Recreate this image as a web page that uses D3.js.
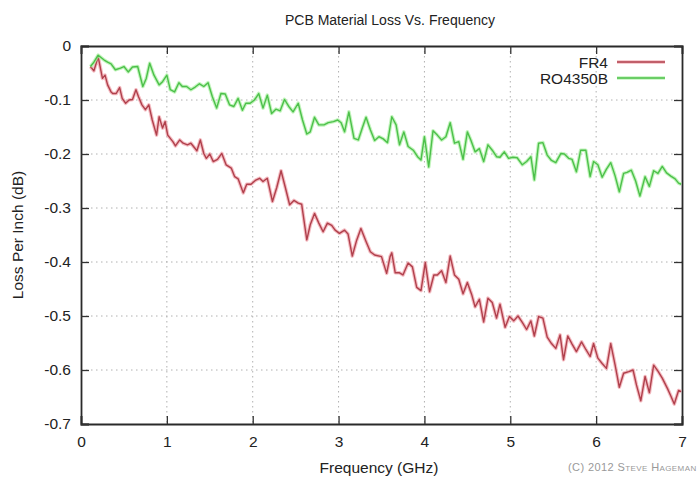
<!DOCTYPE html>
<html><head><meta charset="utf-8">
<script src="https://cdn.jsdelivr.net/npm/d3@7"></script>
<style>body{margin:0;background:#fff}svg text{font-family:"Liberation Sans",Arial,sans-serif}</style>
</head><body><svg id="c" width="699" height="477"></svg>
<script>
const xTicks=[0,1,2,3,4,5,6,7];
const yTicks=[0,-0.1,-0.2,-0.3,-0.4,-0.5,-0.6,-0.7];
const seriesNames=["FR4","RO4350B"];
const fr4Freq=[0.11,0.15,0.2,0.25,0.28,0.31,0.35,0.37,0.41,0.45,0.48,0.52,0.56,0.6,0.64,0.67,0.71,0.75,0.79,0.83,0.88,0.91,0.95,0.98,1.01,1.07,1.1,1.15,1.19,1.24,1.28,1.32,1.35,1.39,1.43,1.46,1.5,1.54,1.59,1.64,1.69,1.75,1.79,1.83,1.89,1.93,1.98,2.03,2.08,2.12,2.17,2.23,2.28,2.33,2.38,2.43,2.48,2.53,2.57,2.63,2.67,2.72,2.77,2.82,2.87,2.92,2.96,3.01,3.07,3.11,3.16,3.21,3.26,3.32,3.37,3.42,3.5,3.56,3.6,3.62,3.66,3.71,3.75,3.81,3.86,3.91,3.96,4.01,4.06,4.11,4.15,4.2,4.25,4.3,4.35,4.4,4.45,4.5,4.55,4.59,4.64,4.69,4.74,4.79,4.84,4.88,4.94,4.99,5.04,5.09,5.14,5.19,5.24,5.28,5.33,5.38,5.43,5.48,5.53,5.58,5.62,5.67,5.72,5.77,5.83,5.88,5.93,5.97,6.02,6.07,6.12,6.17,6.22,6.27,6.32,6.38,6.43,6.47,6.52,6.57,6.62,6.67,6.72,6.77,6.83,6.87,6.91,6.96,6.99];
const fr4Loss=[-0.038,-0.046,-0.02,-0.06,-0.054,-0.072,-0.085,-0.088,-0.088,-0.077,-0.097,-0.106,-0.1,-0.099,-0.081,-0.094,-0.109,-0.118,-0.109,-0.137,-0.165,-0.131,-0.152,-0.14,-0.165,-0.177,-0.185,-0.174,-0.18,-0.183,-0.18,-0.188,-0.194,-0.174,-0.199,-0.208,-0.2,-0.214,-0.21,-0.199,-0.22,-0.226,-0.242,-0.246,-0.272,-0.256,-0.256,-0.249,-0.245,-0.251,-0.245,-0.288,-0.262,-0.231,-0.262,-0.294,-0.286,-0.291,-0.293,-0.359,-0.331,-0.31,-0.328,-0.344,-0.328,-0.332,-0.341,-0.347,-0.341,-0.348,-0.389,-0.36,-0.338,-0.362,-0.381,-0.387,-0.39,-0.421,-0.39,-0.383,-0.42,-0.42,-0.424,-0.402,-0.409,-0.447,-0.453,-0.401,-0.455,-0.424,-0.424,-0.416,-0.438,-0.389,-0.424,-0.432,-0.459,-0.438,-0.46,-0.483,-0.469,-0.511,-0.467,-0.475,-0.504,-0.478,-0.521,-0.501,-0.509,-0.5,-0.512,-0.525,-0.509,-0.537,-0.501,-0.504,-0.539,-0.551,-0.56,-0.535,-0.581,-0.537,-0.552,-0.566,-0.548,-0.562,-0.575,-0.551,-0.578,-0.588,-0.597,-0.551,-0.59,-0.632,-0.606,-0.603,-0.6,-0.628,-0.657,-0.612,-0.642,-0.591,-0.602,-0.615,-0.634,-0.648,-0.663,-0.638,-0.64];
const roFreq=[0.11,0.15,0.2,0.27,0.31,0.35,0.4,0.46,0.5,0.55,0.6,0.66,0.72,0.76,0.8,0.85,0.91,0.95,1.0,1.04,1.09,1.14,1.18,1.23,1.28,1.33,1.38,1.43,1.48,1.53,1.58,1.63,1.68,1.73,1.78,1.83,1.88,1.92,1.97,2.02,2.07,2.12,2.17,2.22,2.27,2.32,2.37,2.42,2.47,2.53,2.58,2.63,2.67,2.72,2.77,2.83,2.88,2.94,2.99,3.03,3.07,3.12,3.18,3.23,3.28,3.32,3.37,3.42,3.47,3.52,3.57,3.62,3.67,3.71,3.76,3.81,3.87,3.92,3.96,4.0,4.05,4.1,4.15,4.2,4.25,4.3,4.35,4.4,4.45,4.5,4.54,4.59,4.64,4.69,4.74,4.79,4.84,4.88,4.93,4.98,5.03,5.08,5.14,5.19,5.24,5.28,5.33,5.38,5.43,5.48,5.53,5.59,5.63,5.68,5.72,5.77,5.82,5.88,5.93,5.97,6.02,6.07,6.12,6.17,6.22,6.27,6.32,6.36,6.41,6.46,6.51,6.57,6.62,6.67,6.72,6.77,6.82,6.87,6.92,6.96,6.99];
const roLoss=[-0.038,-0.03,-0.017,-0.026,-0.03,-0.033,-0.044,-0.041,-0.038,-0.048,-0.039,-0.038,-0.075,-0.06,-0.032,-0.054,-0.072,-0.066,-0.054,-0.081,-0.085,-0.068,-0.075,-0.075,-0.081,-0.076,-0.07,-0.075,-0.068,-0.094,-0.115,-0.088,-0.089,-0.109,-0.112,-0.097,-0.119,-0.106,-0.106,-0.1,-0.088,-0.115,-0.091,-0.125,-0.117,-0.12,-0.099,-0.112,-0.122,-0.106,-0.137,-0.163,-0.159,-0.132,-0.146,-0.146,-0.142,-0.14,-0.137,-0.142,-0.159,-0.122,-0.171,-0.174,-0.15,-0.132,-0.155,-0.175,-0.168,-0.172,-0.179,-0.131,-0.146,-0.183,-0.159,-0.186,-0.193,-0.205,-0.211,-0.168,-0.224,-0.157,-0.165,-0.174,-0.168,-0.142,-0.18,-0.177,-0.21,-0.159,-0.174,-0.196,-0.19,-0.214,-0.183,-0.193,-0.205,-0.206,-0.196,-0.208,-0.206,-0.207,-0.22,-0.214,-0.205,-0.248,-0.18,-0.179,-0.202,-0.212,-0.216,-0.199,-0.2,-0.208,-0.21,-0.233,-0.193,-0.193,-0.242,-0.214,-0.22,-0.243,-0.228,-0.216,-0.24,-0.27,-0.236,-0.234,-0.23,-0.25,-0.278,-0.242,-0.26,-0.231,-0.236,-0.223,-0.235,-0.241,-0.246,-0.254,-0.256];

const svg=d3.select("#c");
const L=81,R=682,T=46,B=424;
const x=d3.scaleLinear().domain([0,7]).range([L,R]);
const y=d3.scaleLinear().domain([-0.7,0]).range([B,T]);
const FS=15.5;

// grid
const g=svg.append("g");
g.selectAll(".vg").data(xTicks.slice(1,-1)).enter().append("line")
 .attr("x1",d=>x(d)).attr("x2",d=>x(d)).attr("y1",T).attr("y2",B)
 .attr("stroke","#b0b0b0").attr("stroke-width",1).attr("stroke-dasharray","1.5,3.5");
g.selectAll(".hg").data(yTicks.slice(1,-1)).enter().append("line")
 .attr("x1",L).attr("x2",R).attr("y1",d=>y(d)).attr("y2",d=>y(d))
 .attr("stroke","#b0b0b0").attr("stroke-width",1).attr("stroke-dasharray","1.5,3.5");

// axes with inward ticks
const fmtY=d=>d===0?"0":d3.format(".1f")(d).replace("−","-");
const ax=svg.append("g").attr("transform",`translate(0,${B})`)
 .call(d3.axisBottom(x).tickValues(xTicks).tickSize(-8).tickPadding(12).tickFormat(d3.format("d")));
const ay=svg.append("g").attr("transform",`translate(${L},0)`)
 .call(d3.axisLeft(y).tickValues(yTicks).tickSize(-8).tickPadding(10).tickFormat(fmtY));
const axT=svg.append("g").attr("transform",`translate(0,${T})`)
 .call(d3.axisTop(x).tickValues(xTicks).tickSize(-8).tickFormat(""));
const ayR=svg.append("g").attr("transform",`translate(${R},0)`)
 .call(d3.axisRight(y).tickValues(yTicks).tickSize(-8).tickFormat(""));
[ax,ay,axT,ayR].forEach(a=>{
 a.select(".domain").attr("stroke","#2a2a2a").attr("stroke-width",1.8);
 a.selectAll(".tick line").attr("stroke","#333").attr("stroke-width",1.3);
 a.selectAll("text").attr("font-size",FS).attr("fill","#222").style("font-family","'Liberation Sans',Arial,sans-serif");
});

// lines
const line=d3.line().x(d=>x(d[0])).y(d=>y(d[1]));
const fr4=fr4Freq.map((f,i)=>[f,fr4Loss[i]]);
const ro=roFreq.map((f,i)=>[f,roLoss[i]]);
const styles=[{data:fr4,glow:"#f0a0a8",core:"#b0404c"},{data:ro,glow:"#a8f0a0",core:"#4cc04a"}];
styles.forEach(s=>{
 svg.append("path").datum(s.data).attr("d",line).attr("fill","none").attr("stroke",s.glow).attr("stroke-width",3.6).attr("stroke-linejoin","round").attr("opacity",0.7);
 svg.append("path").datum(s.data).attr("d",line).attr("fill","none").attr("stroke",s.core).attr("stroke-width",1.4).attr("stroke-linejoin","round");
});

// legend
const lg=svg.append("g");
seriesNames.forEach((n,i)=>{
 const yy=62+i*16;
 lg.append("text").attr("x",608).attr("y",yy+5.5).attr("text-anchor","end").attr("font-size",FS).attr("fill","#222").text(n);
 lg.append("line").attr("x1",617).attr("x2",665).attr("y1",yy).attr("y2",yy).attr("stroke",styles[i].glow).attr("stroke-width",3.4).attr("opacity",0.7);
 lg.append("line").attr("x1",617).attr("x2",665).attr("y1",yy).attr("y2",yy).attr("stroke",styles[i].core).attr("stroke-width",1.3);
});

// titles
svg.append("text").attr("x",390).attr("y",25).attr("text-anchor","middle").attr("font-size",14).attr("fill","#222").text("PCB Material Loss Vs. Frequency");
svg.append("text").attr("x",379).attr("y",473).attr("text-anchor","middle").attr("font-size",FS).attr("fill","#222").text("Frequency (GHz)");
svg.append("text").attr("transform","translate(23,235) rotate(-90)").attr("text-anchor","middle").attr("font-size",FS).attr("fill","#222").text("Loss Per Inch (dB)");
svg.append("text").attr("x",568).attr("y",471).attr("font-size",11).attr("fill","#999").style("font-variant","small-caps").style("letter-spacing","0.4px").text("(C) 2012 Steve Hageman");
</script></body></html>
